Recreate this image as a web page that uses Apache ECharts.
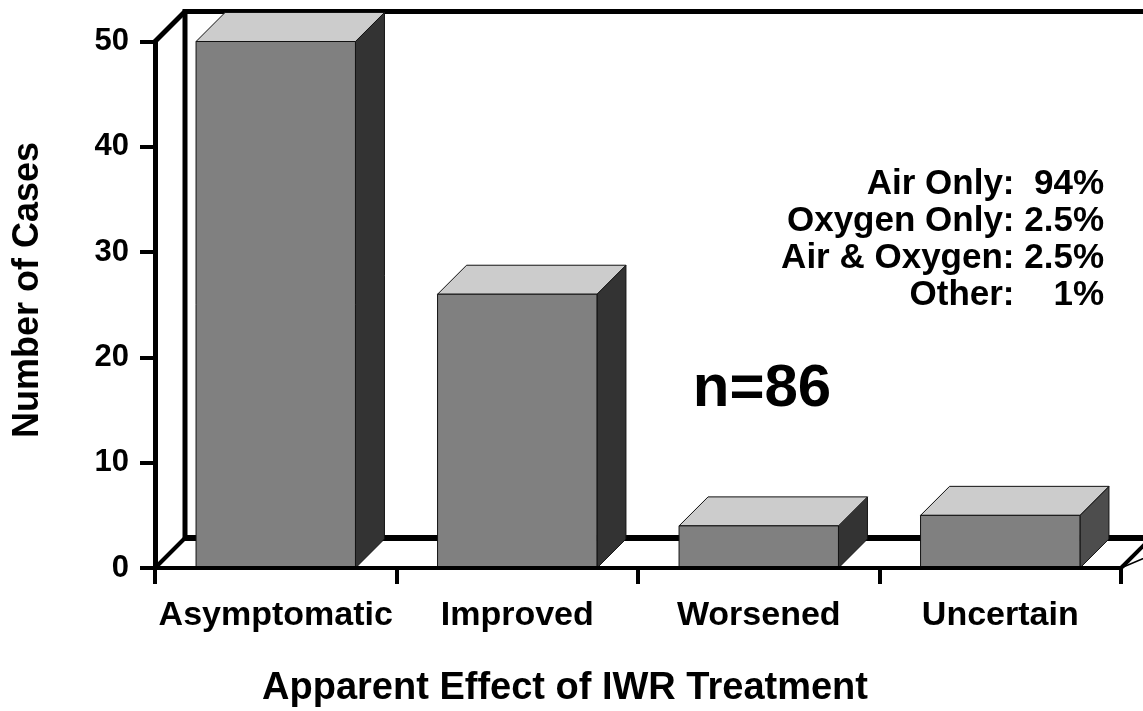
<!DOCTYPE html>
<html>
<head>
<meta charset="utf-8">
<title>Apparent Effect of IWR Treatment</title>
<script src="https://cdn.jsdelivr.net/npm/echarts@6/dist/echarts.min.js"></script>
<style>
  html, body { margin: 0; padding: 0; background: #fff; }
  #chart { width: 1143px; height: 711px; }
</style>
</head>
<body>
<div id="chart"></div>
<script>
// values
const categories = ["Asymptomatic", "Improved", "Worsened", "Uncertain"];
const cases = [50, 26, 4, 5];
const gasMix = ["Air Only:  94%", "Oxygen Only: 2.5%", "Air & Oxygen: 2.5%", "Other:    1%"];
const sampleLabel = "n=86";

const FONT = '"Liberation Sans", Arial, sans-serif';
const DEPTH = 30; // 3d offset in px
const sideColors = ["#333333", "#333333", "#333333", "#4d4d4d"];

let chart = echarts.init(document.getElementById("chart"));

function line(pts, w) {
  return { type: "polyline", shape: { points: pts }, style: { stroke: "#000", lineWidth: w, fill: null } };
}

// back wall + floor
function renderFrame(params, api) {
  let cs = params.coordSys;
  let x0 = cs.x, x1 = cs.x + cs.width;
  let yt = cs.y, yb = cs.y + cs.height;
  let d = DEPTH;
  return {
    type: "group",
    children: [
      { type: "polygon", shape: { points: [[x0, yb], [x0 + d, yb - d], [x1 + d + 40, yb - d], [x1, yb]] },
        style: { fill: "#fff", stroke: "#000", lineWidth: 1.5 } },
      line([[x0 + d, yb - d], [x0 + d, yt - d], [x1 + d + 40, yt - d]], 5),
      line([[x0, yt], [x0 + d, yt - d]], 5),
      line([[x0 + d, yb - d], [x1 + d + 40, yb - d]], 6),
      line([[x0, yb], [x0 + d, yb - d]], 4),
      line([[x1, yb], [x1 + d, yb - d]], 4)
    ]
  };
}

function renderBar(params, api) {
  let idx = api.value(0);
  let top = api.coord([idx, api.value(1)]);
  let base = api.coord([idx, 0]);
  let bw = api.size([1, 0])[0] * 0.66;
  let l = top[0] - bw / 2, r = top[0] + bw / 2;
  let d = DEPTH - 1;
  let edge = { stroke: "#111", lineWidth: 1 };
  return {
    type: "group",
    children: [
      { type: "polygon",
        shape: { points: [[r, base[1]], [r + d, base[1] - d], [r + d, top[1] - d], [r, top[1]]] },
        style: Object.assign({ fill: sideColors[idx] }, edge) },
      { type: "polygon",
        shape: { points: [[l, top[1]], [l + d, top[1] - d], [r + d, top[1] - d], [r, top[1]]] },
        style: Object.assign({ fill: "#cccccc" }, edge) },
      { type: "rect",
        shape: { x: l, y: top[1], width: bw, height: base[1] - top[1] },
        style: Object.assign({ fill: "#808080" }, edge) }
    ]
  };
}

chart.setOption({
  animation: false,
  backgroundColor: "#fff",
  grid: { left: 155, right: 22, top: 41.5, bottom: 143 },
  xAxis: {
    type: "category",
    data: categories,
    z: 10,
    axisLine: { lineStyle: { color: "#000", width: 4 } },
    axisTick: { show: true, interval: 0, length: 16, lineStyle: { color: "#000", width: 4 } },
    axisLabel: { interval: 0, color: "#000", fontFamily: FONT, fontWeight: "bold", fontSize: 34, margin: 31 },
    splitLine: { show: false }
  },
  yAxis: {
    type: "value",
    min: 0,
    max: 50,
    interval: 10,
    z: 10,
    axisLine: { show: true, lineStyle: { color: "#000", width: 5 } },
    axisTick: { show: true, length: 15, lineStyle: { color: "#000", width: 4 } },
    axisLabel: { color: "#000", fontFamily: FONT, fontWeight: "bold", fontSize: 31, margin: 26 },
    splitLine: { show: false }
  },
  graphic: [
    { type: "text", x: 28, y: 290, rotation: Math.PI / 2,
      style: { text: "Number of Cases", align: "center", verticalAlign: "middle",
               font: "bold 36px " + FONT, fill: "#000" } },
    { type: "text", x: 565, y: 689,
      style: { text: "Apparent Effect of IWR Treatment", align: "center", verticalAlign: "middle",
               font: "bold 38px " + FONT, fill: "#000" } },
    { type: "text", x: 762, y: 389, z: 20,
      style: { text: sampleLabel, align: "center", verticalAlign: "middle",
               font: "bold 60px " + FONT, fill: "#000" } }
  ].concat(gasMix.map((t, i) => ({
    type: "text", x: 1104, y: 184 + i * 37, z: 20,
    style: { text: t, align: "right", verticalAlign: "middle", font: "bold 35px " + FONT, fill: "#000" }
  }))),
  series: [
    {
      type: "custom",
      name: "frame",
      z: 1,
      clip: false,
      silent: true,
      renderItem: renderFrame,
      data: [[0, 0]]
    },
    {
      type: "custom",
      name: "Number of Cases",
      z: 2,
      clip: false,
      renderItem: renderBar,
      encode: { x: 0, y: 1 },
      data: cases.map((v, i) => [i, v])
    }
  ]
});
</script>
</body>
</html>
